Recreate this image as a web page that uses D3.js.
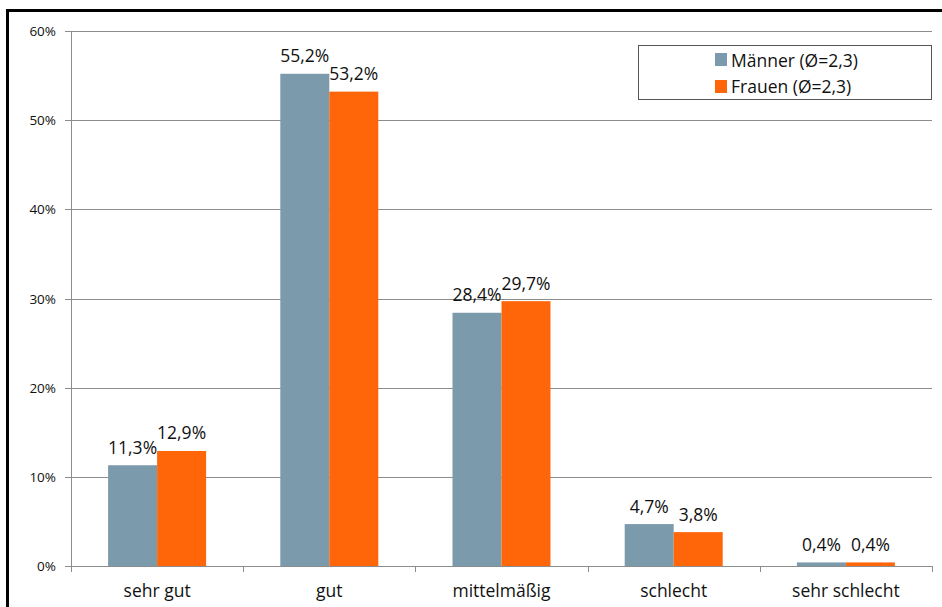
<!DOCTYPE html>
<html>
<head>
<meta charset="utf-8">
<script src="https://cdn.jsdelivr.net/npm/d3@7"></script>
<style>
  body { margin: 0; background: #fff; }
  svg { display: block; font-family: "Open Sans", "Liberation Sans", sans-serif; }
</style>
</head>
<body>
<svg id="chart" width="942" height="607"></svg>
<script>
const categories = ["sehr gut", "gut", "mittelmäßig", "schlecht", "sehr schlecht"];
const seriesNames = ["Männer (Ø=2,3)", "Frauen (Ø=2,3)"];
const maenner = [11.3, 55.2, 28.4, 4.7, 0.4];
const frauen = [12.9, 53.2, 29.7, 3.8, 0.4];
const yTicks = [0, 10, 20, 30, 40, 50, 60];

const colors = ["#7b9aab", "#ff6609"];
const svg = d3.select("#chart");

// outer frame (only left and top edges visible)
svg.append("line").attr("x1", 7.5).attr("x2", 942).attr("y1", 10.5).attr("y2", 10.5)
  .attr("stroke", "#000").attr("stroke-width", 3);
svg.append("line").attr("x1", 7.5).attr("x2", 7.5).attr("y1", 9).attr("y2", 607)
  .attr("stroke", "#000").attr("stroke-width", 3);

const plotLeft = 71, plotRight = 932, plotTop = 31, plotBottom = 566;

const x = d3.scaleBand().domain(categories).range([plotLeft, plotRight]).paddingInner(0).paddingOuter(0);
const y = d3.scaleLinear().domain([0, 60]).range([plotBottom, plotTop]);
const barW = x.bandwidth() * 49 / 172.2;

// gridlines
svg.append("g").selectAll("line").data(yTicks).enter().append("line")
  .attr("x1", plotLeft - 6).attr("x2", plotRight)
  .attr("y1", d => Math.round(y(d)) + 0.5).attr("y2", d => Math.round(y(d)) + 0.5)
  .attr("stroke", "#8c8c8c").attr("stroke-width", 1);

// y labels
svg.append("g").selectAll("text").data(yTicks).enter().append("text")
  .attr("x", 56).attr("y", d => y(d) + 5)
  .attr("text-anchor", "end").attr("font-size", 13.5).attr("fill", "#111")
  .text(d => d + "%");

// y axis line
svg.append("line").attr("x1", plotLeft + 0.5).attr("x2", plotLeft + 0.5).attr("y1", plotTop).attr("y2", plotBottom)
  .attr("stroke", "#8c8c8c");

// x tick marks at category boundaries
const bounds = categories.map(c => x(c)).concat([plotRight]);
svg.append("g").selectAll("line").data(bounds).enter().append("line")
  .attr("x1", d => Math.round(d) + 0.5).attr("x2", d => Math.round(d) + 0.5)
  .attr("y1", plotBottom).attr("y2", plotBottom + 6)
  .attr("stroke", "#8c8c8c");

// bars
const series = [maenner, frauen];
series.forEach((vals, si) => {
  const g = svg.append("g");
  g.selectAll("rect").data(vals).enter().append("rect")
    .attr("x", (d, i) => x(categories[i]) + x.bandwidth() / 2 - barW + si * barW)
    .attr("y", d => y(d))
    .attr("width", barW)
    .attr("height", d => plotBottom - y(d))
    .attr("fill", colors[si]);
  g.selectAll("text").data(vals).enter().append("text")
    .attr("x", (d, i) => x(categories[i]) + x.bandwidth() / 2 - barW / 2 + si * barW)
    .attr("y", d => y(d) - 11.5)
    .attr("text-anchor", "middle").attr("font-size", 17.5).attr("fill", "#111")
    .text(d => d.toFixed(1).replace(".", ",") + "%");
});

// category labels
svg.append("g").selectAll("text").data(categories).enter().append("text")
  .attr("x", d => x(d) + x.bandwidth() / 2).attr("y", 597)
  .attr("text-anchor", "middle").attr("font-size", 17.5).attr("fill", "#111")
  .text(d => d);

// legend
const lg = svg.append("g");
lg.append("rect").attr("x", 638.5).attr("y", 45.5).attr("width", 293).attr("height", 54)
  .attr("fill", "#fff").attr("stroke", "#555").attr("stroke-width", 1);
seriesNames.forEach((name, i) => {
  lg.append("rect").attr("x", 715).attr("y", 53 + i * 27).attr("width", 12).attr("height", 13)
    .attr("fill", colors[i]);
  lg.append("text").attr("x", 731).attr("y", 66.5 + i * 26.5)
    .attr("font-size", 17.5).attr("fill", "#111").text(name);
});
</script>
</body>
</html>
